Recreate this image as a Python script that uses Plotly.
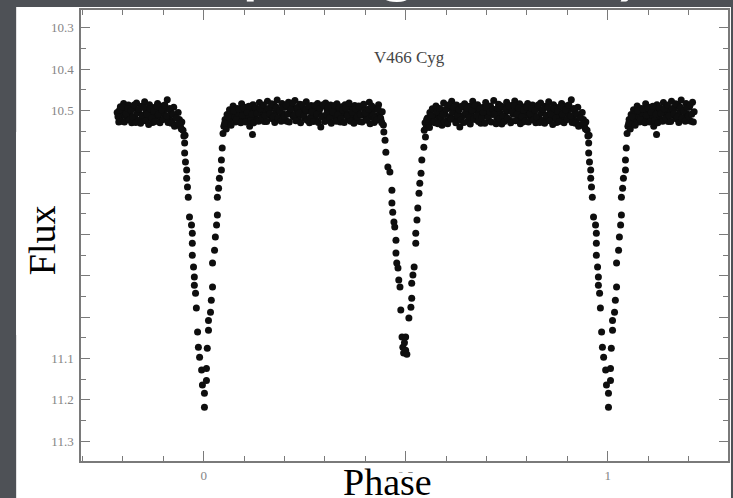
import numpy as np
import plotly.graph_objects as go

# ---- data: one orbital cycle of V466 Cyg (phase, magnitude) ----
primary_in_phase = [-0.049, -0.046, -0.047, -0.047, -0.045, -0.042, -0.042, -0.040, -0.038, -0.035,
                    -0.030, -0.028, -0.028, -0.028, -0.025, -0.023, -0.023, -0.020, -0.018, -0.015,
                    -0.013, -0.010, -0.005, -0.003, 0.002, 0.002]
primary_in_mag = [10.562, 10.560, 10.579, 10.603, 10.625, 10.644, 10.664, 10.685, 10.710, 10.758,
                  10.777, 10.797, 10.821, 10.850, 10.879, 10.903, 10.923, 10.942, 10.978, 11.036,
                  11.073, 11.097, 11.128, 11.164, 11.184, 11.218]

primary_out_phase = [0.007, 0.007, 0.009, 0.012, 0.012, 0.017, 0.019, 0.022, 0.022, 0.027,
                     0.029, 0.032, 0.034, 0.034, 0.037, 0.039, 0.044, 0.044, 0.046]
primary_out_mag = [11.153, 11.124, 11.075, 11.032, 11.008, 10.988, 10.959, 10.927, 10.869, 10.838,
                   10.806, 10.777, 10.753, 10.710, 10.688, 10.664, 10.644, 10.620, 10.591]

max1_phase = [0.048, 0.050, 0.053, 0.056, 0.058, 0.061, 0.064, 0.067, 0.070, 0.073,
              0.076, 0.079, 0.083, 0.086, 0.090, 0.094, 0.098, 0.102, 0.106, 0.110,
              0.114, 0.118, 0.121, 0.122, 0.126, 0.130, 0.134, 0.138, 0.142, 0.146,
              0.150, 0.154, 0.158, 0.162, 0.166, 0.170, 0.174, 0.178, 0.182, 0.186,
              0.190, 0.194, 0.198, 0.202, 0.206, 0.210, 0.214, 0.218, 0.222, 0.226,
              0.230, 0.234, 0.238, 0.242, 0.246, 0.250, 0.254, 0.258, 0.262, 0.266,
              0.270, 0.274, 0.278, 0.282, 0.286, 0.290, 0.294, 0.298, 0.302, 0.306,
              0.310, 0.314, 0.318, 0.322, 0.326, 0.330, 0.334, 0.338, 0.342, 0.346,
              0.350, 0.354, 0.358, 0.362, 0.366, 0.370, 0.374, 0.378, 0.382, 0.386,
              0.390, 0.394, 0.398, 0.402, 0.406, 0.410, 0.414, 0.418, 0.422, 0.426,
              0.430, 0.433, 0.436, 0.439, 0.442, 0.445]
max1_mag = [10.556, 10.538, 10.522, 10.545, 10.510, 10.530, 10.498, 10.520, 10.507, 10.489,
            10.516, 10.528, 10.495, 10.510, 10.523, 10.484, 10.502, 10.519, 10.492, 10.511,
            10.538, 10.500, 10.558, 10.486, 10.515, 10.497, 10.522, 10.481, 10.506, 10.491,
            10.527, 10.500, 10.478, 10.512, 10.494, 10.520, 10.487, 10.505, 10.475, 10.498,
            10.516, 10.483, 10.509, 10.492, 10.526, 10.480, 10.503, 10.488, 10.515, 10.476,
            10.497, 10.521, 10.485, 10.508, 10.494, 10.518, 10.479, 10.502, 10.530, 10.488,
            10.511, 10.496, 10.523, 10.483, 10.505, 10.540, 10.490, 10.514, 10.482, 10.500,
            10.524, 10.487, 10.509, 10.495, 10.517, 10.484, 10.503, 10.528, 10.491, 10.512,
            10.486, 10.507, 10.522, 10.493, 10.515, 10.498, 10.488, 10.519, 10.503, 10.527,
            10.492, 10.511, 10.497, 10.521, 10.506, 10.480, 10.516, 10.500, 10.529, 10.495,
            10.513, 10.486, 10.507, 10.524, 10.503, 10.535]

max1b_phase = [0.052, 0.060, 0.068, 0.075, 0.081, 0.088, 0.092, 0.096, 0.100, 0.104,
               0.108, 0.112, 0.116, 0.120, 0.124, 0.128, 0.132, 0.136, 0.140, 0.144,
               0.148, 0.152, 0.156, 0.160, 0.164, 0.168, 0.172, 0.176, 0.180, 0.184,
               0.188, 0.192, 0.196, 0.200, 0.204, 0.208, 0.212, 0.216, 0.220, 0.224,
               0.228, 0.232, 0.236, 0.240, 0.244, 0.248, 0.252, 0.256, 0.260, 0.264,
               0.268, 0.272, 0.276, 0.280, 0.284, 0.288, 0.292, 0.296, 0.300, 0.304,
               0.308, 0.312, 0.316, 0.320, 0.324, 0.328, 0.332, 0.336, 0.340, 0.344,
               0.348, 0.352, 0.356, 0.360, 0.364, 0.368, 0.372, 0.376, 0.380, 0.384,
               0.388, 0.392, 0.396, 0.400, 0.404, 0.408, 0.412, 0.416, 0.420, 0.424,
               0.428, 0.432, 0.438, 0.441]
max1b_mag = [10.531, 10.515, 10.536, 10.501, 10.522, 10.497, 10.530, 10.512, 10.494, 10.528,
             10.505, 10.490, 10.524, 10.509, 10.530, 10.493, 10.507, 10.526, 10.496, 10.519,
             10.487, 10.513, 10.527, 10.495, 10.508, 10.484, 10.516, 10.529, 10.492, 10.519,
             10.501, 10.526, 10.493, 10.514, 10.487, 10.509, 10.528, 10.497, 10.482, 10.511,
             10.525, 10.493, 10.507, 10.530, 10.486, 10.512, 10.499, 10.524, 10.490, 10.517,
             10.503, 10.527, 10.488, 10.509, 10.529, 10.495, 10.516, 10.486, 10.527, 10.509,
             10.492, 10.518, 10.531, 10.504, 10.488, 10.526, 10.510, 10.493, 10.520, 10.499,
             10.529, 10.494, 10.512, 10.482, 10.526, 10.505, 10.531, 10.496, 10.516, 10.489,
             10.510, 10.528, 10.485, 10.506, 10.524, 10.497, 10.532, 10.489, 10.511, 10.518,
             10.524, 10.497, 10.518, 10.530]

secondary_in_phase = [0.446, 0.449, 0.451, 0.456, 0.461, 0.466, 0.466, 0.468, 0.471, 0.473,
                      0.476, 0.476, 0.478, 0.481, 0.483, 0.486, 0.488, 0.491, 0.493, 0.495, 0.497]
secondary_in_mag = [10.552, 10.572, 10.601, 10.637, 10.649, 10.693, 10.724, 10.746, 10.770, 10.782,
                    10.814, 10.845, 10.869, 10.881, 10.910, 10.927, 10.983, 11.048, 11.073, 11.087, 11.062]

secondary_out_phase = [0.500, 0.500, 0.503, 0.508, 0.513, 0.515, 0.515, 0.518, 0.521, 0.525,
                       0.525, 0.528, 0.530, 0.533, 0.535, 0.538, 0.540, 0.545, 0.549]
secondary_out_mag = [11.080, 11.048, 11.090, 11.002, 10.976, 10.954, 10.918, 10.898, 10.879, 10.821,
                     10.797, 10.765, 10.736, 10.700, 10.676, 10.652, 10.620, 10.589, 10.564]

max2_phase = [0.546, 0.548, 0.551, 0.554, 0.557, 0.560, 0.563, 0.566, 0.569, 0.572,
              0.575, 0.578, 0.582, 0.586, 0.590, 0.594, 0.598, 0.602, 0.606, 0.610,
              0.614, 0.618, 0.622, 0.626, 0.630, 0.634, 0.638, 0.642, 0.646, 0.650,
              0.654, 0.658, 0.662, 0.666, 0.670, 0.674, 0.678, 0.682, 0.686, 0.690,
              0.694, 0.698, 0.702, 0.706, 0.710, 0.714, 0.718, 0.722, 0.726, 0.730,
              0.734, 0.738, 0.742, 0.746, 0.750, 0.754, 0.758, 0.762, 0.766, 0.770,
              0.774, 0.778, 0.782, 0.786, 0.790, 0.794, 0.798, 0.802, 0.806, 0.810,
              0.814, 0.818, 0.822, 0.826, 0.830, 0.834, 0.838, 0.842, 0.846, 0.850,
              0.854, 0.858, 0.862, 0.866, 0.870, 0.874, 0.878, 0.882, 0.886, 0.890,
              0.894, 0.898, 0.902, 0.906, 0.910, 0.914, 0.918, 0.922, 0.926, 0.930,
              0.934, 0.937, 0.940, 0.943, 0.946, 0.949]
max2_mag = [10.548, 10.530, 10.541, 10.518, 10.533, 10.505, 10.524, 10.496, 10.513, 10.530,
            10.489, 10.508, 10.521, 10.497, 10.536, 10.482, 10.510, 10.525, 10.494, 10.515,
            10.478, 10.503, 10.520, 10.487, 10.509, 10.540, 10.492, 10.513, 10.484, 10.505,
            10.527, 10.490, 10.511, 10.478, 10.499, 10.522, 10.486, 10.507, 10.531, 10.493,
            10.514, 10.481, 10.502, 10.525, 10.489, 10.510, 10.476, 10.498, 10.519, 10.485,
            10.506, 10.533, 10.492, 10.512, 10.480, 10.501, 10.524, 10.488, 10.509, 10.477,
            10.497, 10.518, 10.484, 10.505, 10.528, 10.491, 10.512, 10.483, 10.502, 10.521,
            10.487, 10.508, 10.530, 10.494, 10.515, 10.482, 10.503, 10.524, 10.490, 10.511,
            10.479, 10.500, 10.519, 10.486, 10.507, 10.529, 10.493, 10.514, 10.483, 10.504,
            10.523, 10.489, 10.510, 10.496, 10.474, 10.517, 10.501, 10.526, 10.492, 10.512,
            10.535, 10.505, 10.522, 10.540, 10.528, 10.548]

max2b_phase = [0.552, 0.559, 0.565, 0.571, 0.577, 0.580, 0.584, 0.588, 0.592, 0.596,
               0.600, 0.604, 0.608, 0.612, 0.616, 0.620, 0.624, 0.628, 0.632, 0.636,
               0.640, 0.644, 0.648, 0.652, 0.656, 0.660, 0.664, 0.668, 0.672, 0.676,
               0.680, 0.684, 0.688, 0.692, 0.696, 0.700, 0.704, 0.708, 0.712, 0.716,
               0.720, 0.724, 0.728, 0.732, 0.736, 0.740, 0.744, 0.748, 0.752, 0.756,
               0.760, 0.764, 0.768, 0.772, 0.776, 0.780, 0.784, 0.788, 0.792, 0.796,
               0.800, 0.804, 0.808, 0.812, 0.816, 0.820, 0.824, 0.828, 0.832, 0.836,
               0.840, 0.844, 0.848, 0.852, 0.856, 0.860, 0.864, 0.868, 0.872, 0.876,
               0.880, 0.884, 0.888, 0.892, 0.896, 0.900, 0.904, 0.908, 0.912, 0.916,
               0.920, 0.924, 0.928, 0.932, 0.939, 0.945]
max2b_mag = [10.522, 10.541, 10.512, 10.527, 10.503, 10.532, 10.495, 10.516, 10.509, 10.528,
             10.497, 10.532, 10.486, 10.521, 10.505, 10.492, 10.530, 10.512, 10.498, 10.524,
             10.489, 10.529, 10.506, 10.494, 10.517, 10.533, 10.500, 10.521, 10.488, 10.513,
             10.527, 10.495, 10.518, 10.505, 10.531, 10.492, 10.516, 10.503, 10.528, 10.497,
             10.509, 10.532, 10.494, 10.520, 10.489, 10.514, 10.527, 10.498, 10.519, 10.490,
             10.530, 10.503, 10.488, 10.525, 10.509, 10.494, 10.532, 10.515, 10.499, 10.526,
             10.492, 10.528, 10.508, 10.495, 10.523, 10.500, 10.515, 10.487, 10.529, 10.506,
             10.497, 10.531, 10.512, 10.493, 10.525, 10.509, 10.534, 10.496, 10.518, 10.502,
             10.527, 10.490, 10.509, 10.530, 10.498, 10.522, 10.487, 10.513, 10.529, 10.495,
             10.531, 10.509, 10.538, 10.518, 10.532, 10.545]

x_tick_vals = [0, 0.5, 1]
x_tick_text = ["0", "0.5", "1"]
y_tick_vals = [10.3, 10.4, 10.5, 10.6, 10.7, 10.8, 10.9, 11.0, 11.1, 11.2, 11.3]
y_tick_text = ["10.3", "10.4", "10.5", "10.6", "10.7", "10.8", "10.9", "11.0", "11.1", "11.2", "11.3"]

star_name = "V466 Cyg"
slide_title = "Eclipsing Binary"

# ---- phase-folded plot: one cycle, repeated one cycle either side, shown from -0.21 to 1.21 ----
phase = np.array(primary_in_phase + primary_out_phase + max1_phase + max1b_phase + secondary_in_phase
                 + secondary_out_phase + max2_phase + max2b_phase)
mag = np.array(primary_in_mag + primary_out_mag + max1_mag + max1b_mag + secondary_in_mag
               + secondary_out_mag + max2_mag + max2b_mag)
ph_all = np.concatenate([phase, phase + 1, phase - 1])
mag_all = np.concatenate([mag, mag, mag])
keep = (ph_all >= -0.215) & (ph_all <= 1.215)

fig = go.Figure()
fig.add_trace(go.Scatter(
    x=ph_all[keep], y=mag_all[keep], mode="markers",
    marker=dict(size=7, color="#0e0e0e", line=dict(width=0)),
    hoverinfo="skip", showlegend=False))

axis_col = "#7a7a7a"
tick_font = dict(family="Liberation Serif", size=13, color="#858585")

fig.update_xaxes(
    range=[-0.3035, 1.2978], tickmode="array", tickvals=x_tick_vals, ticktext=x_tick_text,
    ticks="inside", ticklen=10, tickwidth=1.2, tickcolor=axis_col,
    showline=True, linecolor=axis_col, linewidth=1.5, mirror="ticks",
    minor=dict(dtick=0.1, tick0=0, ticks="inside", ticklen=5, tickwidth=1.1, tickcolor=axis_col),
    showgrid=False, zeroline=False, tickfont=tick_font, ticklabelstandoff=2)
fig.update_yaxes(
    range=[11.348, 10.257], tickmode="array", tickvals=y_tick_vals, ticktext=y_tick_text,
    ticks="inside", ticklen=9, tickwidth=1.2, tickcolor=axis_col,
    showline=True, linecolor=axis_col, linewidth=1.5, mirror="ticks",
    minor=dict(dtick=0.05, tick0=10.3, ticks="inside", ticklen=5, tickwidth=1.1, tickcolor=axis_col),
    showgrid=False, zeroline=False, tickfont=tick_font, ticklabelstandoff=3)

fig.update_layout(
    width=733, height=498,
    margin=dict(l=81, r=3, t=10, b=37),
    paper_bgcolor="#4e5156", plot_bgcolor="white",
    shapes=[
        dict(type="rect", xref="paper", yref="paper", x0=-0.1002, x1=1.0046, y0=-0.082, y1=1.0067,
             fillcolor="white", line=dict(width=0), layer="below"),
        dict(type="rect", xref="paper", yref="paper", x0=-0.1002, x1=-0.0108, y0=0.2794, y1=0.7295,
             fillcolor="white", line=dict(width=0), layer="above"),
        dict(type="rect", xref="paper", yref="paper", x0=0.4607, x1=0.5408, y0=-0.082, y1=-0.0266,
             fillcolor="white", line=dict(width=0), layer="above"),
    ],
    annotations=[
        dict(text=star_name, xref="paper", yref="paper", x=0.5085, y=0.8936,
             xanchor="center", yanchor="middle", showarrow=False,
             font=dict(family="Liberation Serif", size=17, color="#444")),
        dict(text="Flux", xref="paper", yref="paper", x=-0.0601, y=0.49,
             xanchor="center", yanchor="middle", showarrow=False,
             textangle=-90, font=dict(family="Liberation Serif", size=38, color="black")),
        dict(text="Phase", xref="paper", yref="paper", x=0.473, y=-0.0466,
             xanchor="center", yanchor="middle", showarrow=False,
             font=dict(family="Liberation Serif", size=38, color="black")),
        dict(text=slide_title, xref="paper", yref="paper", x=0.4746, y=1.0089,
             xanchor="center", yanchor="bottom",
             showarrow=False, font=dict(family="Lato", size=76, color="white")),
    ],
)

fig.write_html("out.html")
